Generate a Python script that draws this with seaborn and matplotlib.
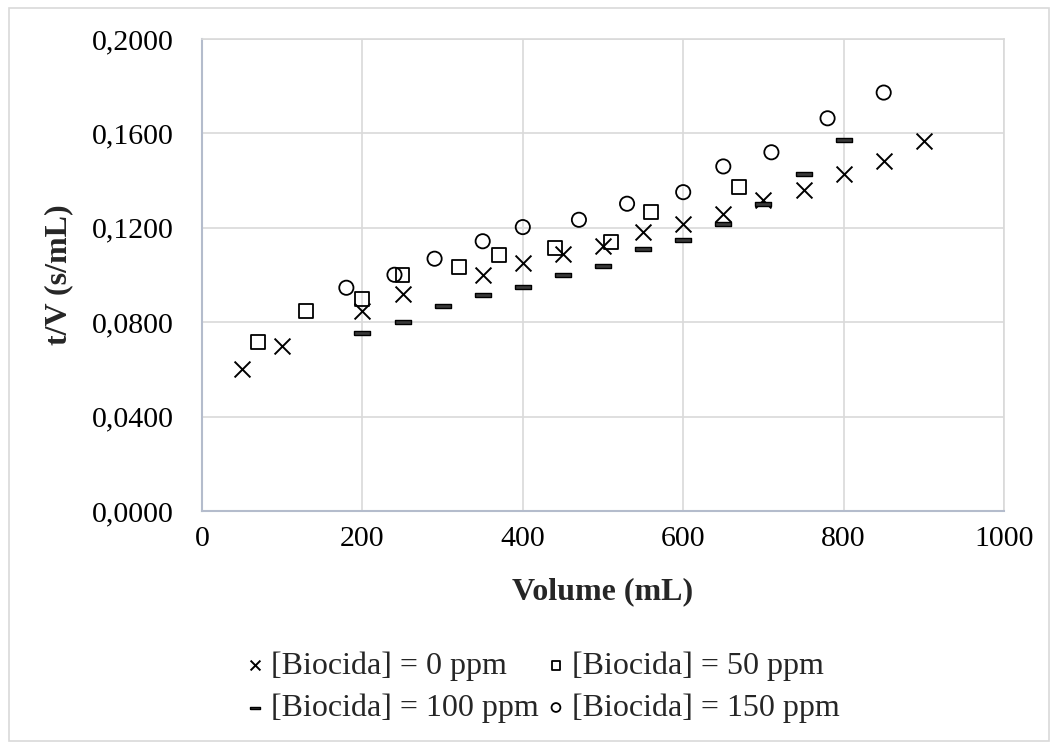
import matplotlib
matplotlib.use("Agg")
import matplotlib.pyplot as plt
from matplotlib.ticker import FuncFormatter, MultipleLocator
from matplotlib.patches import Rectangle
import seaborn as sns

# Filtration data: t/V versus filtrate volume for each biocide concentration
vol_0 = [50, 100, 200, 250, 350, 400, 450, 500, 550, 600, 650, 700, 750, 800, 850, 900]
tv_0 = [0.0603, 0.0699, 0.0849, 0.0920, 0.1001, 0.1050, 0.1087, 0.1121, 0.1181,
        0.1214, 0.1259, 0.1319, 0.1361, 0.1426, 0.1482, 0.1566]

vol_50 = [70, 130, 200, 250, 320, 370, 440, 510, 560, 670]
tv_50 = [0.0715, 0.0847, 0.0899, 0.1001, 0.1033, 0.1083, 0.1115, 0.1139, 0.1266, 0.1372]

vol_100 = [200, 250, 300, 350, 400, 450, 500, 550, 600, 650, 700, 750, 800]
tv_100 = [0.0753, 0.0802, 0.0868, 0.0916, 0.0951, 0.1002, 0.1040, 0.1109, 0.1150,
          0.1217, 0.1299, 0.1426, 0.1574]

vol_150 = [180, 240, 290, 350, 400, 470, 530, 600, 650, 710, 780, 850]
tv_150 = [0.0946, 0.1001, 0.1069, 0.1143, 0.1203, 0.1234, 0.1302, 0.1351, 0.1460,
          0.1520, 0.1664, 0.1773]

labels = ["[Biocida] = 0 ppm", "[Biocida] = 50 ppm",
          "[Biocida] = 100 ppm", "[Biocida] = 150 ppm"]

sns.set_theme(style="white")
plt.rcParams["font.family"] = ["Liberation Serif", "DejaVu Serif"]

fig = plt.figure(figsize=(10.57, 7.49), dpi=100)
ax = fig.add_axes([202 / 1057, 1 - 511 / 749, (1004 - 202) / 1057, (511 - 39) / 749])

# flat bar marker for the 100 ppm series
dash = [(-1, -0.24), (1, -0.24), (1, 0.24), (-1, 0.24), (-1, -0.24)]

sns.scatterplot(x=vol_0, y=tv_0, marker="x", s=130, color="black",
                linewidth=1.4, ax=ax, label=labels[0], zorder=3)
sns.scatterplot(x=vol_50, y=tv_50, marker="s", s=100, facecolor="none",
                edgecolor="black", linewidth=1.3, ax=ax, label=labels[1], zorder=3)
sns.scatterplot(x=vol_100, y=tv_100, marker=dash, s=120, facecolor="#3a3a3a",
                edgecolor="black", linewidth=1.0, ax=ax, label=labels[2], zorder=3)
sns.scatterplot(x=vol_150, y=tv_150, marker="o", s=105, facecolor="none",
                edgecolor="black", linewidth=1.3, ax=ax, label=labels[3], zorder=3)

ax.set_xlim(0, 1000)
ax.set_ylim(0, 0.2)
ax.xaxis.set_major_locator(MultipleLocator(200))
ax.yaxis.set_major_locator(MultipleLocator(0.04))
ax.yaxis.set_major_formatter(FuncFormatter(lambda v, p: f"{v:.4f}".replace(".", ",")))

ax.grid(True, color="#d9d9d9", linewidth=1.2)
ax.set_axisbelow(True)
ax.tick_params(axis="both", length=0, labelsize=21.5, colors="black")
ax.tick_params(axis="x", pad=11)
ax.tick_params(axis="y", pad=20)

for side in ("top", "right"):
    ax.spines[side].set_color("#d9d9d9")
    ax.spines[side].set_linewidth(1.2)
for side in ("left", "bottom"):
    ax.spines[side].set_color("#b4bccc")
    ax.spines[side].set_linewidth(1.5)

ax.set_xlabel("Volume (mL)", fontsize=23, fontweight="bold")
ax.set_ylabel("t/V (s/mL)", fontsize=23, fontweight="bold")
ax.xaxis.set_label_coords(0.5, -0.14)
ax.yaxis.set_label_coords(-0.16, 0.5)

handles, labs = ax.get_legend_handles_labels()
ax.get_legend().remove()
order = [0, 2, 1, 3]
fig.legend([handles[i] for i in order], [labs[i] for i in order],
           loc="center", bbox_to_anchor=(540 / 1057, 1 - 687 / 749), ncol=2,
           frameon=False, fontsize=23, markerscale=0.62, handletextpad=0.05,
           columnspacing=0.1, labelspacing=0.4, handlelength=0.9)

# light outer frame of the chart area
fig.patches.append(Rectangle((9 / 1057, 8 / 749), 1040 / 1057, 733 / 749,
                             transform=fig.transFigure, fill=False,
                             edgecolor="#d9d9d9", linewidth=1.2))

fig.savefig("out.png", dpi=100, facecolor="white")
